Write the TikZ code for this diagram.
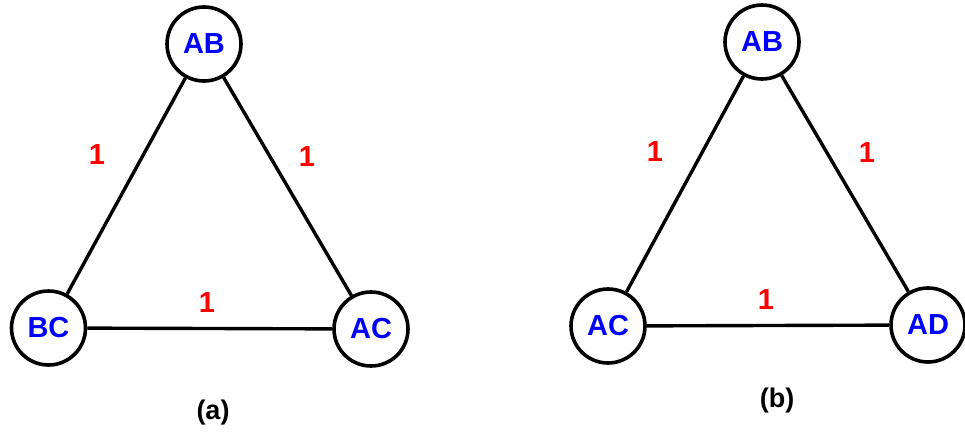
\documentclass[tikz,border=0pt]{standalone}
\usepackage{fontspec}
\setmainfont{Liberation Sans}
\begin{document}
\begin{tikzpicture}[x=1pt,y=-1pt,
  vertex/.style={circle,draw=black,fill=white,line width=3.6pt,minimum size=74pt,inner sep=0pt,
    text=blue,font=\bfseries\fontsize{29}{29}\selectfont},
  link/.style={draw=black,line width=3.4pt},
  weight/.style={text=red,font=\bfseries\fontsize{29}{29}\selectfont,inner sep=0pt},
  caption/.style={text=black,font=\bfseries\fontsize{27}{27}\selectfont,inner sep=0pt}]
\useasboundingbox (0,0) rectangle (965,433);

% graph (a)
\node[vertex] (aAB) at (204,44) {AB};
\node[vertex] (aBC) at (48.5,328) {BC};
\node[vertex] (aAC) at (371,329) {AC};
\draw[link] (aAB) -- (aBC);
\draw[link] (aAB) -- (aAC);
\draw[link] (aBC) -- (aAC);
\node[weight] (wa1) at (97,155) {1};
\node[weight] (wa2) at (307,157) {1};
\node[weight] (wa3) at (207,303) {1};
\node[caption] (capa) at (213,413) {(a)};

% graph (b)
\node[vertex] (bAB) at (762,42) {AB};
\node[vertex] (bAC) at (608,326) {AC};
\node[vertex] (bAD) at (928,325) {AD};
\draw[link] (bAB) -- (bAC);
\draw[link] (bAB) -- (bAD);
\draw[link] (bAC) -- (bAD);
\node[weight] (wb1) at (655,152) {1};
\node[weight] (wb2) at (867,153) {1};
\node[weight] (wb3) at (766,300) {1};
\node[caption] (capb) at (777,401) {(b)};
\end{tikzpicture}
\end{document}
